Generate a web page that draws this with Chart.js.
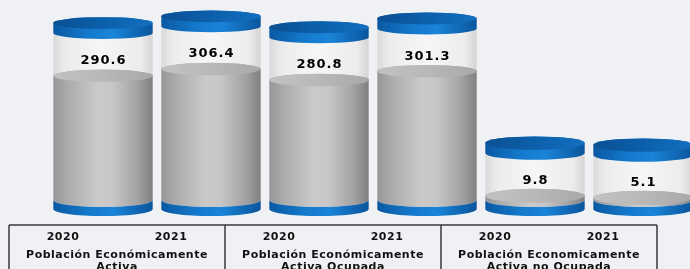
<!DOCTYPE html>
<html><head><meta charset="utf-8">
<script src="https://cdn.jsdelivr.net/npm/chart.js@4"></script>
<style>html,body{margin:0;padding:0;background:#eff1f4;overflow:hidden}#wrap{width:690px;height:269px}</style>
</head><body><div id="wrap"><canvas id="c" width="690" height="269"></canvas></div>
<script>
// ---- data ----
const years = ['2020', '2021', '2020', '2021', '2020', '2021'];
const groupLabels = [
  ['Población Económicamente', 'Activa'],
  ['Población Económicamente', 'Activa Ocupada'],
  ['Población Economicamente', 'Activa no Ocupada']
];
const values = [290.6, 306.4, 280.8, 301.3, 9.8, 5.1];
const glassPad = [100, 100, 100, 100, 100, 100]; // empty (glass) part of each cylinder

const BG = '#eff1f4';
const DX = 40;        // 3D depth shift of the cylinders relative to the axis
const CAP = 10;       // cap thickness px
const BASE = 9;       // base thickness px
const ry = y => 5.8 + y * 0.006;

function hGrad(ctx, x, rx, stops) {
  const g = ctx.createLinearGradient(x - rx, 0, x + rx, 0);
  stops.forEach(s => g.addColorStop(s[0], s[1]));
  return g;
}
function sideShape(ctx, x, rx, yTop, yBot) {
  ctx.beginPath();
  ctx.moveTo(x - rx, yTop);
  ctx.lineTo(x - rx, yBot);
  ctx.ellipse(x, yBot, rx, ry(yBot), 0, Math.PI, 0, true);
  ctx.lineTo(x + rx, yTop);
  ctx.ellipse(x, yTop, rx, ry(yTop), 0, 0, Math.PI, true);
  ctx.closePath();
}
function bandShape(ctx, x, rx, yTop, yBot) {
  ctx.beginPath();
  ctx.ellipse(x, yTop, rx, ry(yTop), 0, Math.PI, 0, true);
  ctx.lineTo(x + rx, yBot);
  ctx.ellipse(x, yBot, rx, ry(yBot), 0, 0, Math.PI, false);
  ctx.closePath();
}
function face(ctx, x, rx, y) {
  ctx.beginPath();
  ctx.ellipse(x, y, rx, ry(y), 0, 0, Math.PI * 2);
  ctx.closePath();
}

const cylinders = {
  id: 'cylinders',
  beforeDraw(chart) {
    const ctx = chart.ctx;
    ctx.save();
    ctx.fillStyle = BG;
    ctx.fillRect(0, 0, chart.width, chart.height);
    ctx.restore();
  },
  afterDatasetsDraw(chart) {
    const ctx = chart.ctx;
    const m0 = chart.getDatasetMeta(0), m1 = chart.getDatasetMeta(1);
    ctx.save();
    m0.data.forEach((bar, i) => {
      const x = bar.x + DX, rx = bar.width / 2;
      const y0 = bar.base, yv = bar.y, yg = m1.data[i].y, yc = yg - CAP;
      const blueSide = hGrad(ctx, x, rx, [[0, '#0a58a2'], [0.35, '#1479cc'], [0.6, '#1a84d8'], [1, '#0a559c']]);
      const blueFace = hGrad(ctx, x, rx, [[0, '#0a4f92'], [0.5, '#0c60ab'], [1, '#136fbf']]);
      // glass
      sideShape(ctx, x, rx, yg, yv);
      ctx.fillStyle = hGrad(ctx, x, rx, [[0, '#dadada'], [0.12, '#ececec'], [0.5, '#f6f6f6'], [0.88, '#ececec'], [1, '#d4d4d4']]);
      ctx.fill();
      // gray liquid
      sideShape(ctx, x, rx, yv, y0);
      ctx.fillStyle = hGrad(ctx, x, rx, [[0, '#969696'], [0.15, '#acacac'], [0.45, '#cacaca'], [0.6, '#c6c6c6'], [0.85, '#a2a2a2'], [1, '#7f7f7f']]);
      ctx.fill();
      face(ctx, x, rx, yv);
      ctx.fillStyle = hGrad(ctx, x, rx, [[0, '#c2c2c2'], [0.5, '#b8b8b8'], [1, '#a9a9a9']]);
      ctx.fill();
      // base band
      bandShape(ctx, x, rx, y0, y0 + BASE);
      ctx.fillStyle = blueSide;
      ctx.fill();
      // cap
      sideShape(ctx, x, rx, yc, yg);
      ctx.fillStyle = blueSide;
      ctx.fill();
      face(ctx, x, rx, yc);
      ctx.fillStyle = blueFace;
      ctx.fill();
      // value label
      ctx.fillStyle = '#000';
      ctx.font = 'bold 13px "DejaVu Sans"';
      ctx.letterSpacing = '1px';
      ctx.textAlign = 'center';
      ctx.textBaseline = 'middle';
      ctx.fillText(values[i].toFixed(1), x + 0.5, yv - 15);
    });
    ctx.restore();
  },
  afterDraw(chart) {
    const ctx = chart.ctx, xs = chart.scales.x;
    const half = (xs.getPixelForValue(1) - xs.getPixelForValue(0)) / 2;
    const top = 225;
    ctx.save();
    ctx.strokeStyle = '#3a3a3a';
    ctx.lineWidth = 1.5;
    ctx.beginPath();
    ctx.moveTo(xs.getPixelForValue(0) - half, top);
    ctx.lineTo(xs.getPixelForValue(years.length - 1) + half, top);
    for (let g = 0; g <= groupLabels.length; g++) {
      const px = g < groupLabels.length ? xs.getPixelForValue(g * 2) - half : xs.getPixelForValue(years.length - 1) + half;
      ctx.moveTo(px, top);
      ctx.lineTo(px, chart.height + 2);
    }
    ctx.stroke();
    ctx.fillStyle = '#111';
    ctx.font = 'bold 11px "DejaVu Sans"';
    ctx.letterSpacing = '0.5px';
    ctx.textAlign = 'center';
    ctx.textBaseline = 'middle';
    years.forEach((y, i) => ctx.fillText(y, xs.getPixelForValue(i), 237));
    groupLabels.forEach((lines, g) => {
      const cx = (xs.getPixelForValue(g * 2) + xs.getPixelForValue(g * 2 + 1)) / 2;
      lines.forEach((t, k) => ctx.fillText(t, cx, 255 + k * 12));
    });
    ctx.restore();
  }
};

new Chart(document.getElementById('c'), {
  type: 'bar',
  data: {
    labels: years,
    datasets: [
      { label: 'Valor', data: values, backgroundColor: 'rgba(0,0,0,0)', barPercentage: 0.92, categoryPercentage: 1 },
      { label: 'Vacío', data: glassPad, backgroundColor: 'rgba(0,0,0,0)', barPercentage: 0.92, categoryPercentage: 1 }
    ]
  },
  options: {
    responsive: false,
    animation: false,
    devicePixelRatio: 1,
    layout: { padding: { left: 9, right: 33, top: 0, bottom: 69 } },
    scales: {
      x: { display: false, stacked: true },
      y: { display: false, stacked: true, min: 0, max: 468 }
    },
    plugins: { legend: { display: false }, tooltip: { enabled: false } }
  },
  plugins: [cylinders]
});
</script>
</body></html>
